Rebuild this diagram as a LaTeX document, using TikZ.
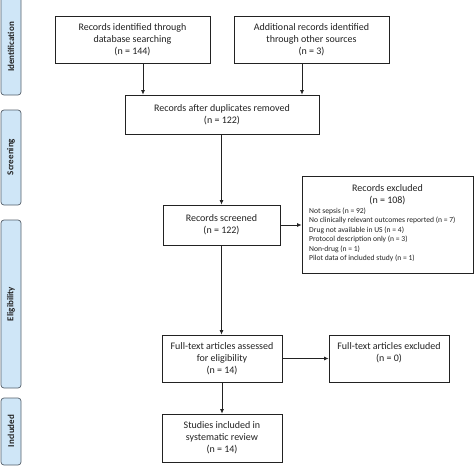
\documentclass[tikz,border=0pt]{standalone}
\usepackage{fontspec}
\setmainfont{Carlito}
\usetikzlibrary{arrows.meta,calc}
\definecolor{sidefill}{HTML}{CFE6F7}
\definecolor{sidedraw}{HTML}{55606B}
\definecolor{ink}{HTML}{222222}
\tikzset{
  box/.style={draw=ink, line width=0.7pt, fill=white, align=center, inner sep=2pt,
    font=\fontsize{10}{12}\selectfont, text=ink},
  side/.style={draw=sidedraw, line width=0.7pt, fill=sidefill, rounded corners=3pt},
  sidetext/.style={rotate=90, font=\fontsize{9}{10}\selectfont\bfseries, text=ink},
  arr/.style={draw=ink, line width=0.8pt, -{Latex[length=4.5pt,width=4pt]}},
}
\begin{document}
\begin{tikzpicture}[x=1pt,y=-1pt]
\useasboundingbox (0,0) rectangle (474,467);
% side bars
\draw[side] (1,-6) rectangle (21,95);
\node[sidetext] (sid) at (11,47) {Identification};
\draw[side] (1,110) rectangle (21,205);
\node[sidetext] (sscr) at (11,157) {Screening};
\draw[side] (1,220) rectangle (21,388);
\node[sidetext] (selig) at (11,304) {Eligibility};
\draw[side] (1,398) rectangle (21,465);
\node[sidetext] (sinc) at (11,431) {Included};
% boxes
\node[box, minimum width=155, minimum height=47] (b1) at (132.5,39.5)
  {Records identified through\\database searching\\(n = 144)};
\node[box, minimum width=155, minimum height=47] (b2) at (311.5,39.5)
  {Additional records identified\\through other sources\\(n = 3)};
\node[box, minimum width=194, minimum height=39] (b3) at (222,114.5)
  {Records after duplicates removed\\(n = 122)};
\node[box, minimum width=117, minimum height=40] (scr) at (221.5,225)
  {Records screened\\(n = 122)};
\node[box, minimum width=171, minimum height=97] (excl) at (387.5,224.5) {};
\node[align=center, font=\fontsize{10}{12.3}\selectfont, text=ink, inner sep=0] (extitle) at (387.5,195)
  {Records excluded\\(n = 108)};
\node[anchor=north west, align=left, font=\fontsize{7.6}{9.5}\selectfont, text=ink, inner sep=0] (exlist) at (309,207.5)
  {Not sepsis (n = 92)\\
   No clinically relevant outcomes reported (n = 7)\\
   Drug not available in US (n = 4)\\
   Protocol description only (n = 3)\\
   Non-drug (n = 1)\\
   Pilot data of included study (n = 1)};
\node[box, minimum width=120, minimum height=47] (ft) at (222,358.5)
  {Full-text articles assessed\\for eligibility\\(n = 14)};
\node[box, minimum width=120, minimum height=47] (ftex) at (389,358.5)
  {Full-text articles excluded\\(n = 0)\\\mbox{}};
\node[box, minimum width=120, minimum height=48] (inc) at (222,438)
  {Studies included in\\systematic review\\(n = 14)};
% arrows
\draw[arr] ([xshift=10.5pt]b1.south) -- ([xshift=10.5pt]b1.south |- b3.north);
\draw[arr] ([xshift=-9.5pt]b2.south) -- ([xshift=-9.5pt]b2.south |- b3.north);
\draw[arr] (b3.south -| scr.north) -- (scr.north);
\draw[arr] (scr.east) -- (scr.east -| excl.west);
\draw[arr] (scr.south) -- (scr.south |- ft.north);
\draw[arr] (ft.east) -- (ftex.west);
\draw[arr] (ft.south) -- (inc.north);
\end{tikzpicture}
\end{document}
